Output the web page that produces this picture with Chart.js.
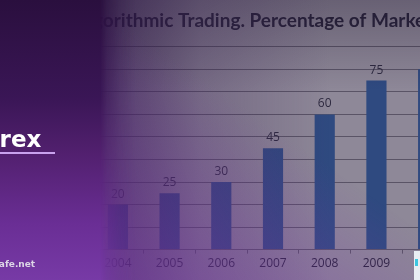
<!DOCTYPE html>
<html lang="en">
<head>
<meta charset="UTF-8">
<title>Algorithmic Trading</title>
<script src="https://cdn.jsdelivr.net/npm/chart.js"></script>
<style>
  html, body { margin: 0; padding: 0; }
  body { width: 420px; height: 280px; overflow: hidden; position: relative; background: #8e8898; font-family: "DejaVu Sans", sans-serif; }
  .chart-box { position: absolute; left: 0; top: 0; width: 576px; height: 280px; }
  .shade { position: absolute; left: 0; top: 0; width: 420px; height: 280px; pointer-events: none; }
  .shade-top { background: linear-gradient(to bottom, rgba(35,25,50,0.35) 0px, rgba(35,25,50,0) 90px); }
  .shade-mid { background: linear-gradient(to right, rgba(45,20,70,0.7) 100px, rgba(60,35,85,0.3) 200px, rgba(70,50,90,0) 330px); }
  .shade-low { background: linear-gradient(35deg, rgba(125,55,175,0.75) 0%, rgba(125,55,175,0.3) 35%, rgba(125,55,175,0) 60%); }
  .panel { position: absolute; left: 0; top: 0; width: 135px; height: 280px; pointer-events: none;
    background: linear-gradient(to bottom, #2a0f3e 0%, #3a1656 35%, #52206f 55%, #6a2e95 80%, #773aa6 100%);
    -webkit-mask-image: linear-gradient(to right, #000 100px, rgba(0,0,0,0.55) 107px, rgba(0,0,0,0.2) 120px, transparent 135px);
    mask-image: linear-gradient(to right, #000 100px, rgba(0,0,0,0.55) 107px, rgba(0,0,0,0.2) 120px, transparent 135px); }
  .brand { position: absolute; left: -31px; top: 128px; color: #ffffff; font: bold 23px/1 "DejaVu Sans", sans-serif; }
  .brand-line { position: absolute; left: 0; top: 152px; width: 55px; height: 2px; background: #c9a2ee; }
  .site { position: absolute; left: -33px; top: 259px; color: #ddd6e6; font: bold 9px "DejaVu Sans", sans-serif; }
  .corner { position: absolute; left: 414px; top: 251px; width: 6px; height: 29px; background: #e9eef3; }
  .corner i { position: absolute; left: 1px; top: 8px; width: 3px; height: 7px; background: #3cc6e0; }
</style>
</head>
<body>
  <div class="chart-box"><canvas id="tradeChart"></canvas></div>
  <div class="shade shade-top"></div>
  <div class="shade shade-mid"></div>
  <div class="shade shade-low"></div>
  <div class="panel"></div>
  <div class="brand">Forex</div>
  <div class="brand-line"></div>
  <div class="site">forexsafe.net</div>
  <div class="corner"><i></i></div>

<script>
  // chart data
  const years = ['2004', '2005', '2006', '2007', '2008', '2009', '2010'];
  const marketShare = [20, 25, 30, 45, 60, 75, 80];
  const chartTitle = 'Algorithmic Trading. Percentage of Market Volume';

  const gridColor = '#5a5466';
  const textColor = '#27223a';

  // draws the value above each bar
  const valueLabels = {
    id: 'valueLabels',
    afterDatasetsDraw(chart) {
      const ctx = chart.ctx;
      const meta = chart.getDatasetMeta(0);
      ctx.save();
      ctx.font = '12px "Open Sans", sans-serif';
      ctx.fillStyle = '#2e2a40';
      ctx.textAlign = 'center';
      ctx.textBaseline = 'alphabetic';
      meta.data.forEach((bar, i) => {
        ctx.fillText(marketShare[i], bar.x, bar.y - 7);
      });
      ctx.restore();
    }
  };

  new Chart(document.getElementById('tradeChart'), {
    type: 'bar',
    data: {
      labels: years,
      datasets: [{
        data: marketShare,
        backgroundColor: '#2f4a80',
        categoryPercentage: 1,
        barPercentage: 0.39
      }]
    },
    options: {
      responsive: true,
      maintainAspectRatio: false,
      animation: false,
      layout: { padding: { left: 0, right: 0, top: 0, bottom: 6 } },
      scales: {
        x: {
          grid: { drawOnChartArea: false, drawTicks: true, tickLength: 4, color: gridColor },
          border: { color: gridColor },
          ticks: { color: textColor, font: { family: 'Open Sans', size: 12 }, padding: 3 }
        },
        y: {
          min: 0,
          max: 90,
          ticks: { display: false, stepSize: 10 },
          grid: { color: gridColor, drawTicks: false },
          border: { display: false },
          // the original axis labels sit under the purple panel
          afterFit(scale) { scale.width = 92; }
        },
        yPad: {
          position: 'right',
          ticks: { display: false },
          grid: { display: false },
          border: { display: false },
          // blank strip past the right edge, keeps the wide title unsqueezed
          afterFit(scale) { scale.width = 122; }
        }
      },
      plugins: {
        legend: { display: false },
        tooltip: { enabled: false },
        title: {
          display: true,
          text: chartTitle,
          color: textColor,
          font: { family: 'Lato', size: 19, weight: 'bold' },
          padding: { top: 9, bottom: 15 }
        }
      }
    },
    plugins: [valueLabels]
  });
</script>
</body>
</html>
